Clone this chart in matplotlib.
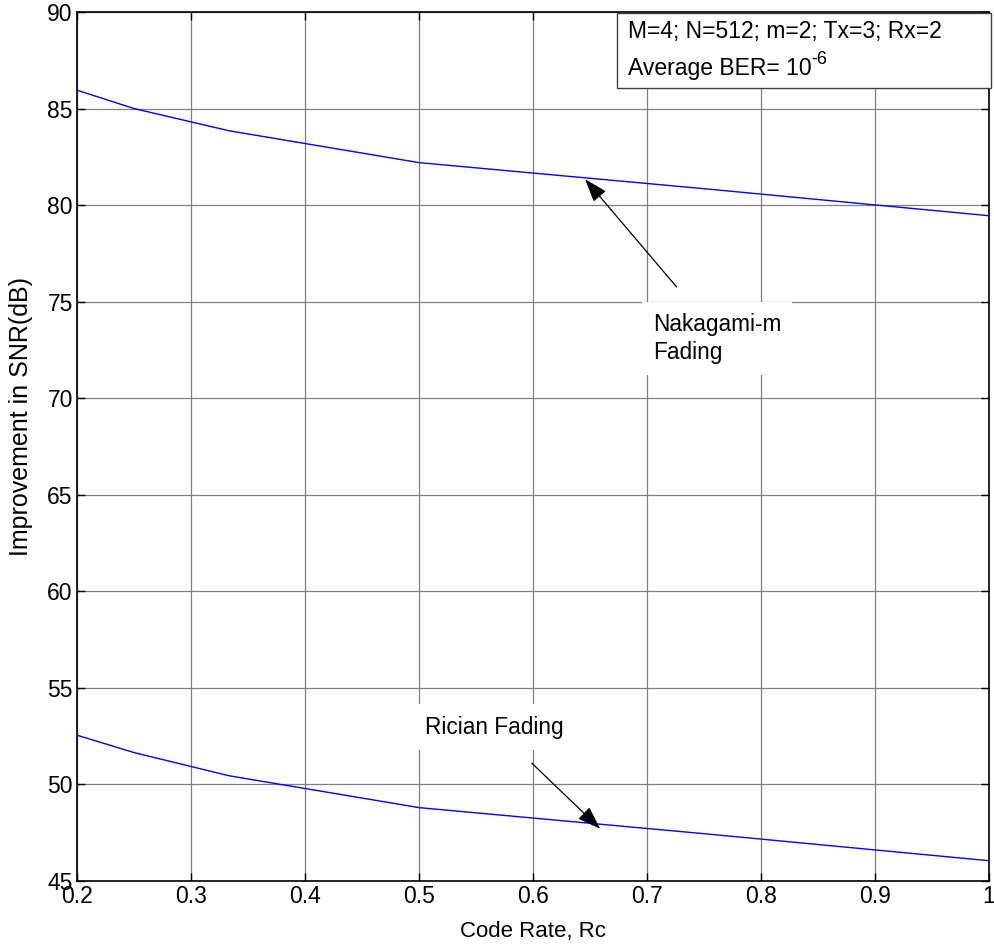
import matplotlib
matplotlib.use('Agg')
import matplotlib.pyplot as plt
from matplotlib.patches import Rectangle

plt.rcParams['font.family'] = ['Liberation Sans', 'DejaVu Sans']

# code rates and SNR improvement
code_rate = [0.2, 0.25, 1/3, 0.5, 2/3, 0.75, 1.0]
nakagami = [85.95, 85.0, 83.85, 82.2, 81.3, 80.85, 79.45]
rician = [52.55, 51.65, 50.45, 48.8, 47.9, 47.45, 46.05]

xticks = [0.2, 0.3, 0.4, 0.5, 0.6, 0.7, 0.8, 0.9, 1]
yticks = [45, 50, 55, 60, 65, 70, 75, 80, 85, 90]
fs = 16.5

fig = plt.figure(figsize=(9.95, 9.46), dpi=100)
ax = fig.add_axes([77/995, 65/946, 912/995, 869/946])

ax.plot(code_rate, nakagami, color='blue', lw=1)
ax.plot(code_rate, rician, color='blue', lw=1)

ax.set_xlim(0.2, 1)
ax.set_ylim(45, 90)
ax.set_xticks(xticks)
ax.set_xticklabels(['0.2', '0.3', '0.4', '0.5', '0.6', '0.7', '0.8', '0.9', '1'])
ax.set_yticks(yticks)
ax.grid(True, color='#808080', lw=0.9)
ax.tick_params(direction='in', top=True, right=True, labelsize=fs, length=6, width=1, pad=3)
for s in ax.spines.values():
    s.set_linewidth(1.2)

ax.set_xlabel('Code Rate, Rc', fontsize=16)
ax.xaxis.set_label_coords(0.5, -0.046)
ax.set_ylabel('Improvement in SNR(dB)', fontsize=18)
ax.yaxis.set_label_coords(-0.048, 0.535)

# text box top right
ax.add_patch(Rectangle((0.592, 0.9125), 0.41, 0.0863, transform=ax.transAxes,
                       facecolor='white', edgecolor='#404040', lw=1, zorder=5, clip_on=False))
ax.text(0.604, 0.977, 'M=4; N=512; m=2; Tx=3; Rx=2', transform=ax.transAxes,
        fontsize=fs, va='center', ha='left', zorder=6)
ber = ax.text(0.604, 0.9345, 'Average BER= 10', transform=ax.transAxes,
              fontsize=fs, va='center', ha='left', zorder=6)
ax.annotate('-6', xy=(1.0, 0.55), xycoords=ber, fontsize=13, va='bottom', ha='left',
            zorder=6)

arrow = dict(arrowstyle='-|>,head_length=1.45,head_width=0.5', color='k', lw=0.9,
             shrinkA=0, shrinkB=0)

ax.annotate('', xy=(0.6456, 81.35), xytext=(0.726, 75.76), arrowprops=arrow, zorder=4)
ax.text(0.705, 73.1, 'Nakagami-m\nFading', fontsize=16.3, va='center', ha='left',
        linespacing=1.3, zorder=4,
        bbox=dict(facecolor='white', edgecolor='none', pad=8))

ax.annotate('', xy=(0.659, 47.7), xytext=(0.599, 51.1), arrowprops=arrow, zorder=4)
ax.text(0.505, 52.97, 'Rician Fading', fontsize=16.3, va='center', ha='left', zorder=4,
        bbox=dict(facecolor='white', edgecolor='none', pad=8))

fig.savefig('out.png', dpi=100)
